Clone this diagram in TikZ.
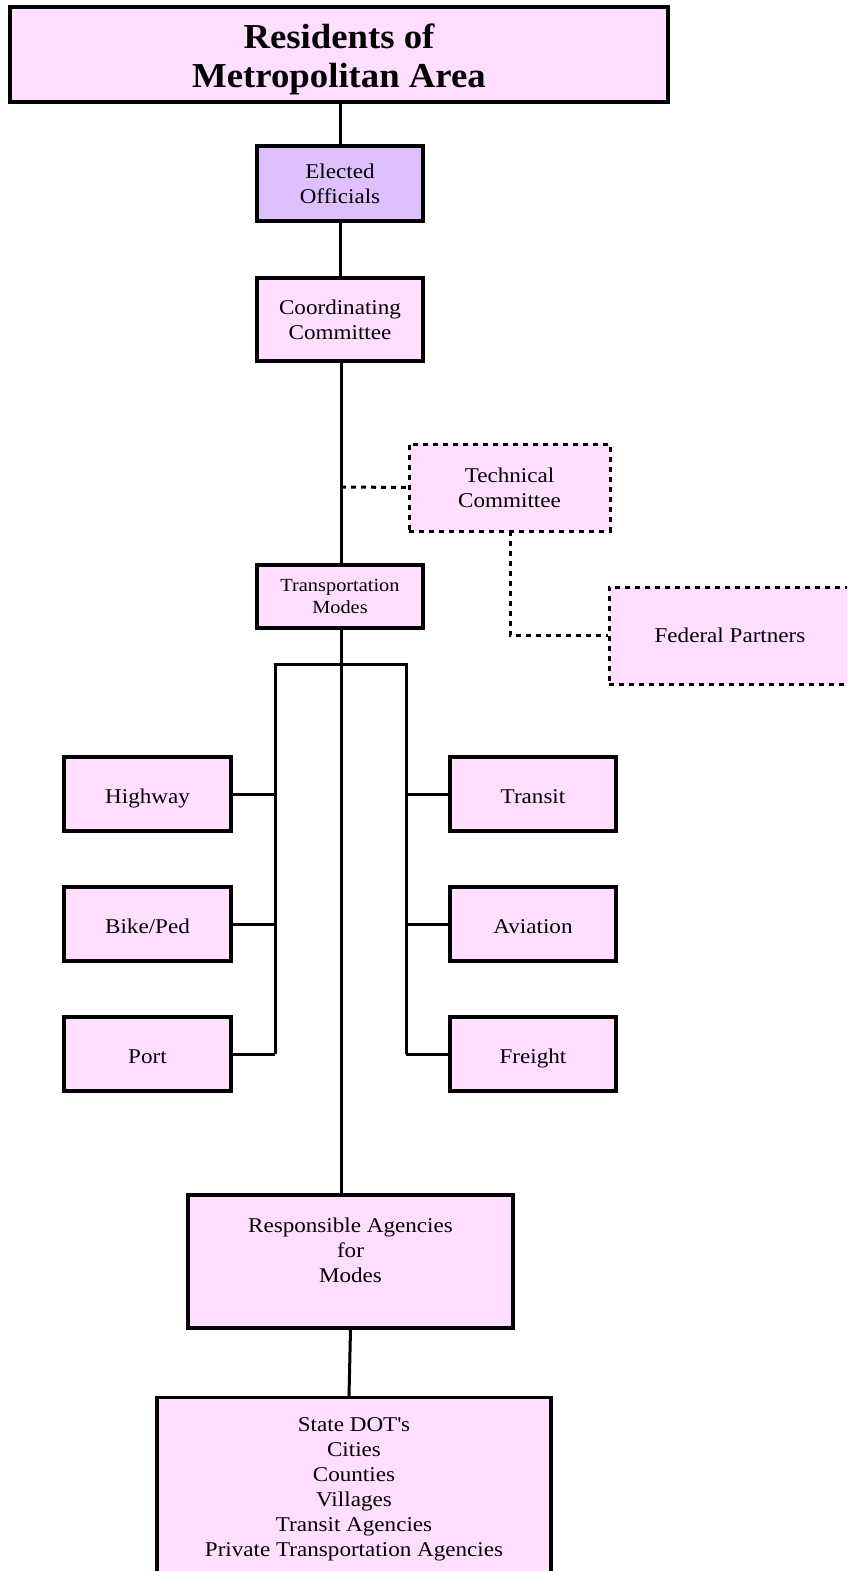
\documentclass[tikz,border=0pt]{standalone}
\usepackage{fontspec}
\setmainfont{Liberation Serif}[FakeStretch=1.1]
\newfontfamily\titlefont{Liberation Serif}[FakeStretch=1.05]
\definecolor{boxpink}{RGB}{255,222,255}
\definecolor{boxlilac}{RGB}{222,192,255}
\begin{document}
\begin{tikzpicture}[x=1pt,y=-1pt,
  box/.style={draw=black,line width=3.2pt,fill=boxpink,inner sep=0pt,align=center,
    font=\fontsize{21}{25}\selectfont},
  modebox/.style={box,minimum width=167pt,minimum height=74pt,text height=18pt,text depth=0pt},
  dbox/.style={box,line width=3pt,dash pattern=on 5pt off 5pt},
  conn/.style={line width=3pt},
  dconn/.style={line width=3pt,dash pattern=on 5pt off 5pt}]
\useasboundingbox (0,0) rectangle (847,1571);
\clip (0,0) rectangle (847,1571);
\node[box,line width=3.6pt,minimum width=658pt,minimum height=95pt] (res) at (339,54.5) {};
\node[inner sep=0pt,align=center,font=\titlefont\bfseries\fontsize{35}{39}\selectfont] (restxt) at (339,59.5) {Residents of\\Metropolitan Area};
\node[box,fill=boxlilac,minimum width=166pt,minimum height=75pt] (eo) at (340,183.5) {Elected\\Officials};
\node[box,minimum width=166pt,minimum height=83pt] (cc) at (340,319.5) {Coordinating\\Committee};
\node[dbox,minimum width=201pt,minimum height=87pt] (tc) at (509.5,487.5) {Technical\\Committee};
\node[box,minimum width=166pt,minimum height=63pt,font=\fontsize{18.5}{22}\selectfont] (tm) at (340,596.5) {Transportation\\Modes};
\node[dbox,minimum width=242pt,minimum height=97pt] (fp) at (730,635.5) {Federal Partners};
\node[modebox] (hw) at (147.5,794) {Highway};
\node[modebox] (bp) at (147.5,924) {Bike/Ped};
\node[modebox] (po) at (147.5,1054) {Port};
\node[modebox,minimum width=166pt] (tr) at (533,794) {Transit};
\node[modebox,minimum width=166pt] (av) at (533,924) {Aviation};
\node[modebox,minimum width=166pt] (fr) at (533,1054) {Freight};
\node[box,minimum width=325pt,minimum height=133pt] (ra) at (350.5,1261.5) {Responsible Agencies\\for\\Modes\\[-3pt]};
\node[box,minimum width=394pt,minimum height=184pt,anchor=north] (sd) at (354,1396) {State DOT\textquotesingle s\\Cities\\Counties\\Villages\\Transit Agencies\\Private Transportation Agencies};
% connectors
\draw[conn] (res.south -| eo.north) -- (eo.north);
\draw[conn] (eo.south) -- (cc.north);
\draw[conn] (cc.south -| 341,0) -- (tm.north -| 341,0);
\coordinate (tj) at (341,487);
\draw[dconn] (tj) -- (tc.west);
\coordinate (tcb) at (510,531);
\coordinate (tcc) at (510,635);
\draw[dconn] (tcb) -- (tcc) -- (fp.west |- tcc);
\draw[conn] (tm.south -| 341,0) -- (ra.north -| 341,0);
\coordinate (bl) at (275,664);
\coordinate (br) at (406,664);
\draw[conn] (bl |- po.east) -- (bl) -- (br) -- (br |- fr.west);
\draw[conn] (hw.east) -- (bl |- hw.east);
\draw[conn] (bp.east) -- (bl |- bp.east);
\draw[conn] (po.east) -- (bl |- po.east);
\draw[conn] (tr.west) -- (br |- tr.west);
\draw[conn] (av.west) -- (br |- av.west);
\draw[conn] (fr.west) -- (br |- fr.west);
\draw[conn] (ra.south) -- (sd.north -| 349,0);
\end{tikzpicture}
\end{document}
